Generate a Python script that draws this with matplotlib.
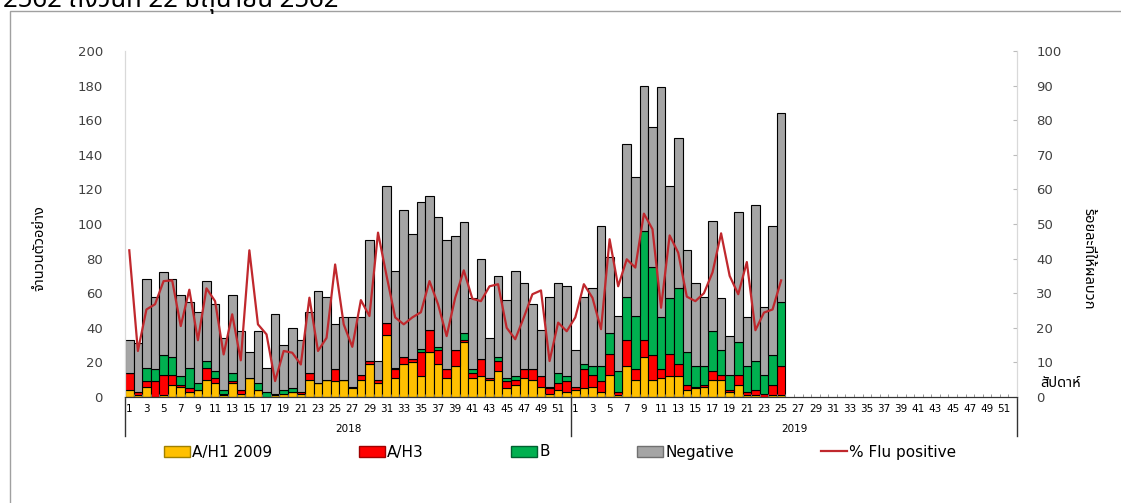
import numpy as np
import matplotlib
matplotlib.use('Agg')
import matplotlib.pyplot as plt
from matplotlib.lines import Line2D
from matplotlib.patches import Patch, Rectangle

# ข้อมูลรายสัปดาห์ 2018 (สัปดาห์ 1-52) และ 2019 (สัปดาห์ 1-25)
h1_2018 = [4, 1, 6, 0, 1, 7, 6, 3, 4, 10, 8, 1, 8, 2, 11, 4, 0, 1, 2, 3, 2, 10, 8, 10, 9, 10,
           5, 10, 19, 8, 36, 11, 19, 20, 12, 26, 19, 11, 18, 32, 11, 12, 10, 15, 5, 7, 11, 10, 6, 2, 4, 3]
h3_2018 = [10, 2, 3, 9, 12, 6, 1, 2, 0, 7, 3, 1, 1, 2, 0, 0, 0, 0, 0, 0, 1, 4, 0, 0, 7, 0,
           1, 3, 2, 2, 7, 5, 4, 2, 14, 13, 8, 5, 9, 1, 3, 10, 1, 6, 4, 3, 5, 6, 6, 3, 4, 6]
b_2018 = [0, 0, 8, 7, 11, 10, 5, 12, 4, 4, 4, 2, 5, 0, 0, 4, 3, 1, 2, 2, 0, 0, 0, 0, 0, 0,
          0, 0, 0, 0, 0, 1, 0, 0, 2, 0, 2, 0, 0, 4, 2, 0, 0, 2, 2, 2, 0, 0, 0, 1, 6, 3]
total_2018 = [33, 31, 68, 58, 72, 68, 59, 55, 49, 67, 54, 34, 59, 38, 26, 38, 17, 48, 30, 40, 33, 49, 61, 58, 42, 46,
              46, 46, 91, 21, 122, 73, 108, 94, 113, 116, 104, 91, 93, 101, 57, 80, 34, 70, 56, 73, 66, 54, 39, 58, 66, 64]
pct_2018 = [42.4, 13.3, 25.3, 26.8, 33.5, 33.7, 20.5, 31.0, 16.4, 31.4, 27.7, 12.3, 23.9, 10.6, 42.4, 21.0, 18.1,
            4.6, 13.3, 12.8, 9.4, 28.7, 13.3, 17.1, 38.3, 21.0, 14.5, 28.0, 23.4, 47.5, 35.0, 23.0, 21.0, 23.0,
            24.5, 33.5, 26.8, 17.6, 28.7, 36.6, 28.4, 27.7, 32.0, 32.6, 20.0, 16.7, 23.0, 29.7, 30.8, 10.4, 21.5, 19.0]

h1_2019 = [4, 5, 6, 3, 13, 1, 18, 10, 23, 10, 11, 12, 12, 4, 5, 6, 10, 10, 3, 7, 1, 1, 0, 1, 1]
h3_2019 = [2, 11, 7, 6, 12, 2, 15, 6, 10, 14, 5, 13, 7, 3, 1, 1, 5, 3, 1, 6, 2, 3, 2, 6, 17]
b_2019 = [0, 3, 5, 9, 12, 12, 25, 31, 63, 51, 30, 32, 44, 19, 12, 11, 23, 14, 9, 19, 15, 17, 11, 17, 37]
total_2019 = [27, 58, 63, 99, 81, 47, 146, 127, 180, 156, 179, 122, 150, 85, 66, 58, 102, 57, 35, 107, 46, 111, 52, 99, 164]
pct_2019 = [23.0, 32.6, 28.7, 19.6, 45.6, 32.0, 39.8, 37.4, 53.0, 48.5, 25.8, 46.7, 41.7, 29.0, 27.7, 30.0,
            36.0, 47.3, 35.0, 29.7, 39.0, 19.3, 24.4, 25.3, 33.7]

week_labels = [str(w) if w % 2 == 1 else '' for w in range(1, 53)] * 2
years = ['2018', '2019']
series_names = ['A/H1 2009', 'A/H3', 'B', 'Negative', '% Flu positive']

plt.rcParams['font.family'] = ['DejaVu Sans', 'Noto Sans Thai']
thai = ['Noto Sans Thai', 'DejaVu Sans']

h1 = np.array(h1_2018 + h1_2019, dtype=float)
h3 = np.array(h3_2018 + h3_2019, dtype=float)
bb = np.array(b_2018 + b_2019, dtype=float)
tot = np.array(total_2018 + total_2019, dtype=float)
neg = tot - h1 - h3 - bb
pct = np.array(pct_2018 + pct_2019)
x = np.arange(len(tot))

fig = plt.figure(figsize=(11.21, 5.03), dpi=100)
ax = fig.add_axes([125 / 1121, 1 - 397 / 503, 892 / 1121, 346 / 503])
ax2 = ax.twinx()

kw = dict(width=1.0, edgecolor='black', linewidth=0.8)
ax.bar(x, h1, color='#FFC000', **kw)
ax.bar(x, h3, bottom=h1, color='#FF0000', **kw)
ax.bar(x, bb, bottom=h1 + h3, color='#00B050', **kw)
ax.bar(x, neg, bottom=h1 + h3 + bb, color='#A5A5A5', **kw)
ax2.plot(x[:len(pct)], pct, color='#C0282D', lw=1.6)

ax.set_xlim(-0.5, 103.5)
ax.set_ylim(0, 200)
ax2.set_ylim(0, 100)
ax.set_yticks(range(0, 201, 20))
ax2.set_yticks(range(0, 101, 10))
ax.set_xticks(np.arange(104))
ax.set_xticklabels(week_labels, fontsize=7.5)
ax.set_xticks(np.arange(-0.5, 104, 1), minor=True)
ax.tick_params(axis='x', which='major', length=0, pad=5)
ax.tick_params(axis='x', which='minor', length=2, direction='in', color='#888888')
ax.tick_params(axis='y', length=0, pad=16, labelsize=9.5, labelcolor='#404040')
ax2.tick_params(axis='y', length=3, direction='in', pad=14, labelsize=9.5, labelcolor='#404040', color='#BBBBBB')
for a in (ax, ax2):
    a.spines['top'].set_visible(False)
    a.spines['left'].set_color('#D9D9D9')
    a.spines['right'].set_color('#D9D9D9')
    a.spines['bottom'].set_color('#333333')

ax.set_ylabel('จำนวนตัวอย่าง', fontsize=10.5, family=thai)
ax.yaxis.set_label_coords(-0.087, 0.43)
ax2.set_ylabel('ร้อยละที่ให้ผลบวก', fontsize=10.5, rotation=-90, family=thai, va='center')
ax2.yaxis.set_label_coords(1.08, 0.40)
ax2.text(1.026, 0.04, 'สัปดาห์', transform=ax2.transAxes, fontsize=10.5, ha='left', va='center', family=thai)

# เส้นแบ่งปีและป้ายปี
trans = ax.get_xaxis_transform()
for xv in (-0.5, 51.5, 103.5):
    ax.plot([xv, xv], [0, -0.113], transform=trans, color='#333333', lw=1, clip_on=False)
for i, yr in enumerate(years):
    ax.text(25.5 + 52 * i, -0.093, yr, transform=trans, ha='center', va='center', fontsize=7.5)

handles = [Patch(facecolor='#FFC000', edgecolor='#A08000'), Patch(facecolor='#FF0000', edgecolor='#A00000'),
           Patch(facecolor='#00B050', edgecolor='#006030'), Patch(facecolor='#A5A5A5', edgecolor='#707070'),
           Line2D([], [], color='#C0282D', lw=1.6)]
fig.legend(handles, series_names, ncol=5,
           loc='center', bbox_to_anchor=(560 / 1121, 1 - 452 / 503), frameon=False, fontsize=11,
           handlelength=1.7, handleheight=0.7, handletextpad=0.15, columnspacing=5.7)

# กรอบรูป
fig.add_artist(Rectangle((10 / 1121, -0.05), 1.2, 1 - 11 / 503 + 0.05, transform=fig.transFigure,
                         fill=False, edgecolor='#A0A0A0', lw=1))
fig.text(3 / 1121, 1 - 7 / 503, '2562 ถึงวันที่ 22 มิถุนายน 2562', fontsize=18.5, va='baseline', ha='left',
         family=thai)

fig.savefig('out.png', dpi=100)
